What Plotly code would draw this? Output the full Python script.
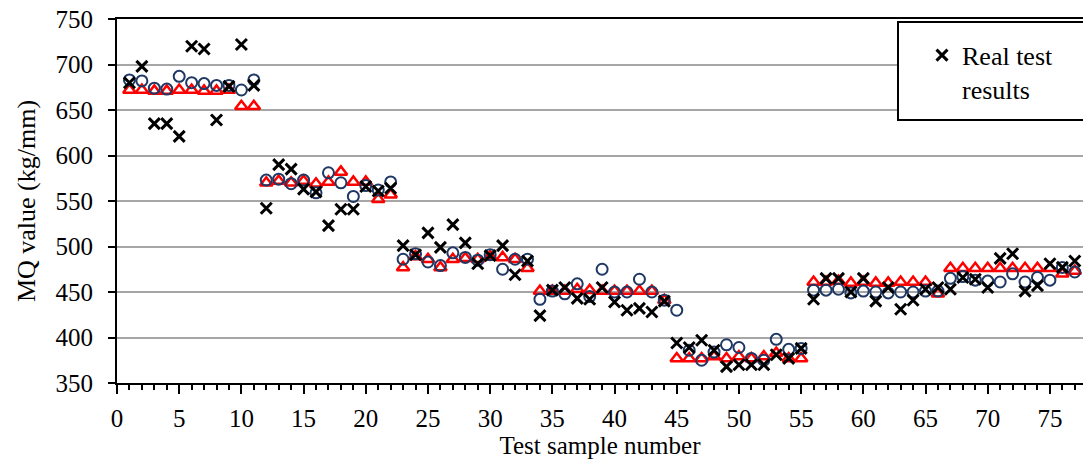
import plotly.graph_objects as go

sample = list(range(1, 78))

real = [680, 698, 635, 635, 621, 720, 717, 639, 676, 722, 677,
        542, 590, 585, 563, 560, 523, 541, 541, 566, 561, 564,
        501, 491, 515, 499, 524, 504, 481, 490, 501, 469, 484,
        424, 452, 455, 443, 442, 455, 439, 430, 432, 428, 440,
        394, 389, 397, 386, 368, 370, 370, 370, 381, 377, 388,
        442, 465, 465, 450, 465, 440, 455, 431, 441, 453, 455,
        453, 466, 464, 455, 487, 492, 451, 457, 481, 477, 484]

model_a = [683, 682, 674, 673, 687, 680, 679, 677, 677, 672, 683,
           573, 574, 569, 573, 559, 581, 570, 555, 567, 562, 571,
           486, 492, 483, 479, 493, 488, 485, 491, 475, 486, 486,
           442, 451, 448, 459, 445, 475, 450, 450, 464, 450, 441,
           430, 386, 375, 384, 392, 389, 377, 375, 398, 387, 388,
           452, 452, 453, 449, 451, 450, 449, 450, 450, 451, 451,
           465, 467, 463, 462, 461, 470, 461, 466, 463, 477, 472]

model_b = [672, 672, 671, 671, 672, 672, 671, 671, 672, 654, 654,
           570, 572, 570, 572, 569, 571, 582, 571, 571, 552, 557,
           477, 489, 486, 477, 486, 487, 486, 489, 488, 486, 476,
           451, 451, 451, 453, 452, 451, 451, 451, 451, 451, 441,
           377, 377, 377, 379, 377, 379, 377, 379, 383, 377, 377,
           461, 461, 462, 460, 461, 460, 460, 461, 461, 461, 448,
           476, 476, 476, 476, 476, 476, 476, 476, 476, 470, 473]

y_ticks = [350, 400, 450, 500, 550, 600, 650, 700, 750]
x_ticks = list(range(0, 80, 5))

FONT = "Liberation Serif, Times New Roman, serif"
tick_font = dict(family=FONT, size=25, color="black")

fig = go.Figure()
fig.add_trace(go.Scatter(
    x=sample, y=model_b, mode="markers", name="Model B", showlegend=False,
    marker=dict(symbol="triangle-up-open", size=11, color="#FF0000",
                line=dict(color="#FF0000", width=2.5))))
fig.add_trace(go.Scatter(
    x=sample, y=model_a, mode="markers", name="Model A", showlegend=False,
    marker=dict(symbol="circle-open", size=11, color="#1F3864",
                line=dict(color="#1F3864", width=2))))
fig.add_trace(go.Scatter(
    x=sample, y=real, mode="markers", name="Real test<br>results",
    marker=dict(symbol="x-thin-open", size=11, color="black",
                line=dict(color="black", width=3))))

x_left_px = 117
plot_w = 1083 - x_left_px

fig.add_shape(type="rect", xref="paper", yref="paper",
              x0=(898 - x_left_px) / plot_w, x1=1.1,
              y0=(383.3 - 120) / 364.3, y1=(383.3 - 22) / 364.3,
              line=dict(color="black", width=2), fillcolor="white", layer="above")

fig.update_layout(
    width=1083, height=460,
    margin=dict(l=117, r=0, t=19, b=77),
    paper_bgcolor="white", plot_bgcolor="white",
    font=dict(family=FONT, size=26, color="black"),
    legend=dict(x=(922 - x_left_px) / plot_w, y=0.965, xanchor="left", yanchor="top",
                bgcolor="rgba(0,0,0,0)", borderwidth=0, valign="top",
                font=dict(family=FONT, size=26, color="black")),
    xaxis=dict(range=[0, 77.66], tickvals=x_ticks, ticks="outside", ticklen=9,
               tickwidth=2, tickcolor="black", showline=True, linecolor="black",
               linewidth=2, mirror=True, showgrid=False, zeroline=False,
               ticklabelstandoff=3, tickfont=tick_font, automargin=False,
               minor=dict(dtick=1, ticks="outside", ticklen=5, tickwidth=2,
                          tickcolor="black", showgrid=False),
               title=dict(text="Test sample number", standoff=0,
                          font=dict(family=FONT, size=25, color="black"))),
    yaxis=dict(range=[350, 750], tickvals=y_ticks, ticks="outside", ticklen=7,
               tickwidth=2, tickcolor="black", showline=True, linecolor="black",
               linewidth=2, showgrid=True, gridcolor="#A6A6A6", gridwidth=2,
               zeroline=False, ticklabelstandoff=10, tickfont=tick_font,
               automargin=False,
               title=dict(text="MQ value (kg/mm)", standoff=12,
                          font=dict(family=FONT, size=26, color="black"))),
)

fig.write_html("out.html")
